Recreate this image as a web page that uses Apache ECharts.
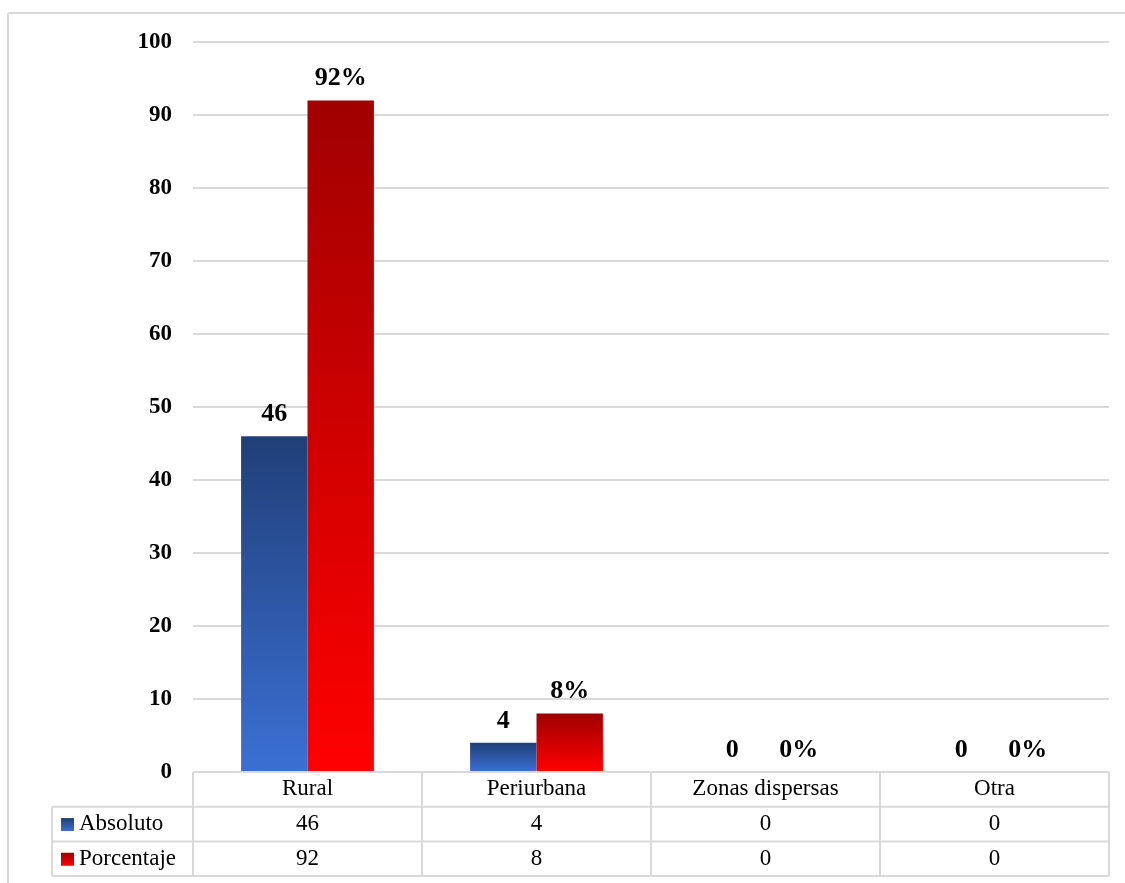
<!DOCTYPE html>
<html>
<head>
<meta charset="utf-8">
<script src="https://cdn.jsdelivr.net/npm/echarts@6/dist/echarts.min.js"></script>
<style>
  html, body { margin: 0; padding: 0; background: #fff; }
  #chart { width: 1125px; height: 883px; }
</style>
</head>
<body>
<div id="chart"></div>
<script>
// datos
const categories = ['Rural', 'Periurbana', 'Zonas dispersas', 'Otra']
const seriesNames = ['Absoluto', 'Porcentaje']
const absoluto = [46, 4, 0, 0]
const porcentaje = [92, 8, 0, 0]

const FONT = '"Liberation Serif", "Times New Roman", serif'
const LINE = '#d9d9d9'

const blueGrad = new echarts.graphic.LinearGradient(0, 0, 0, 1, [
  { offset: 0, color: '#203f78' },
  { offset: 1, color: '#3b70d4' }
])
const redGrad = new echarts.graphic.LinearGradient(0, 0, 0, 1, [
  { offset: 0, color: '#a00000' },
  { offset: 1, color: '#ff0000' }
])

const chart = echarts.init(document.getElementById('chart'))

const gridLeft = 193, gridRight = 16, gridTop = 42, gridBottom = 111

const barLabel = {
  show: true,
  position: 'top',
  distance: 9,
  fontFamily: FONT,
  fontSize: 26,
  fontWeight: 'bold',
  color: '#000'
}

chart.setOption({
  animation: false,
  grid: { left: gridLeft, right: gridRight, top: gridTop, bottom: gridBottom },
  xAxis: {
    type: 'category',
    data: categories,
    axisLine: { show: false },
    axisTick: { show: false },
    axisLabel: { show: false }
  },
  yAxis: {
    type: 'value',
    min: 0,
    max: 100,
    interval: 10,
    axisLine: { show: false },
    axisTick: { show: false },
    axisLabel: {
      margin: 21,
      fontFamily: FONT,
      fontSize: 23,
      fontWeight: 'bold',
      color: '#000'
    },
    splitLine: { lineStyle: { color: LINE, width: 2 } }
  },
  series: [
    {
      name: seriesNames[0],
      type: 'bar',
      data: absoluto,
      barGap: '0%',
      barCategoryGap: '42%',
      itemStyle: { color: blueGrad },
      label: barLabel
    },
    {
      name: seriesNames[1],
      type: 'bar',
      data: porcentaje,
      itemStyle: { color: redGrad },
      label: Object.assign({}, barLabel, { formatter: '{c}%' })
    }
  ]
})

// tabla de datos bajo el gráfico
function buildTable() {
  const W = chart.getWidth(), H = chart.getHeight()
  const x0 = gridLeft, x1 = W - gridRight
  const yTop = H - gridBottom
  const rowH = 34.7
  const legendLeft = 52
  const step = (x1 - x0) / categories.length
  const els = []
  const line = (xa, ya, xb, yb) => els.push({
    type: 'line', silent: true, z: 5,
    shape: { x1: xa, y1: ya, x2: xb, y2: yb },
    style: { stroke: LINE, lineWidth: 2 }
  })
  // marco exterior
  line(8, 13, W, 13)
  line(8, 13, 8, H)
  // lineas horizontales
  line(x0, yTop, x1, yTop)
  for (let r = 1; r <= 3; r++) line(legendLeft, yTop + rowH * r, x1, yTop + rowH * r)
  // lineas verticales
  for (let c = 0; c <= categories.length; c++) line(x0 + step * c, yTop, x0 + step * c, yTop + rowH * 3)
  line(legendLeft, yTop + rowH, legendLeft, yTop + rowH * 3)

  const txt = (x, y, s, align) => els.push({
    type: 'text', silent: true, z: 6, x: x, y: y,
    style: { text: s, font: '23px ' + FONT, fill: '#000', align: align || 'center', verticalAlign: 'middle' }
  })
  categories.forEach((c, i) => {
    const cx = chart.convertToPixel({ xAxisIndex: 0 }, c)
    txt(cx, yTop + rowH * 0.5, c)
    txt(cx, yTop + rowH * 1.5, String(absoluto[i]))
    txt(cx, yTop + rowH * 2.5, String(porcentaje[i]))
  })
  const grads = [blueGrad, redGrad]
  seriesNames.forEach((n, i) => {
    const cy = yTop + rowH * (1.5 + i)
    els.push({
      type: 'rect', silent: true, z: 6,
      shape: { x: 61, y: cy - 6, width: 13, height: 13 },
      style: { fill: grads[i] }
    })
    txt(79, cy, n, 'left')
  })
  chart.setOption({ graphic: els })
}
buildTable()
</script>
</body>
</html>
